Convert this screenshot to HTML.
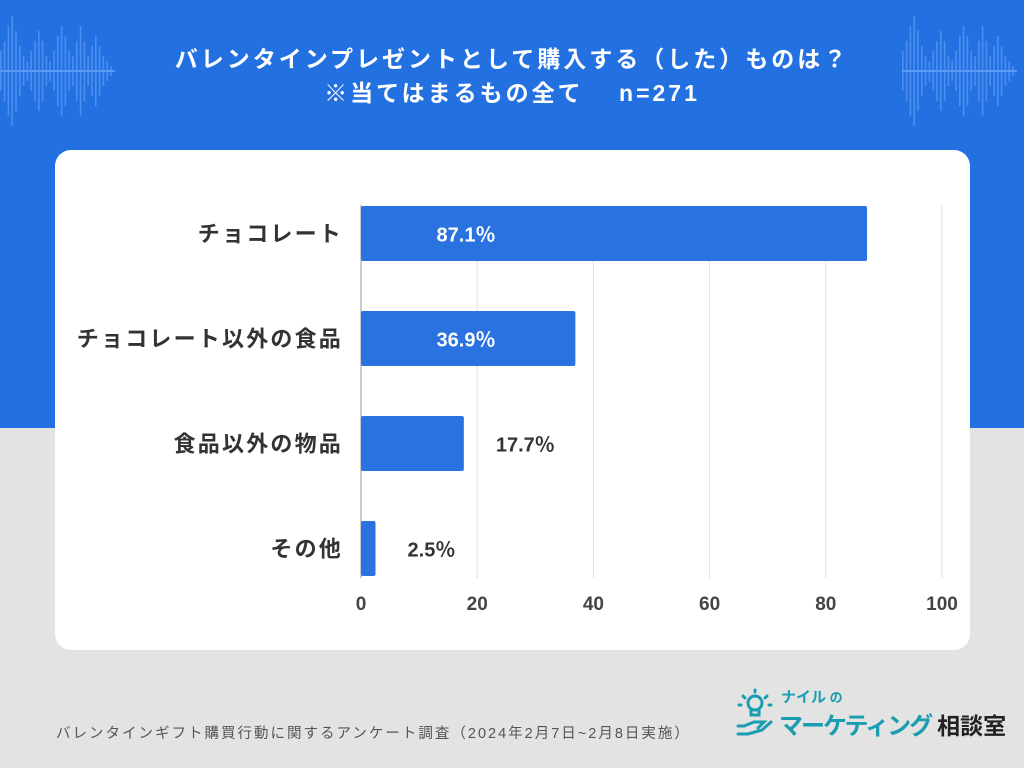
<!DOCTYPE html>
<html><head><meta charset="utf-8">
<style>
body{margin:0;width:1024px;height:768px;position:relative;overflow:hidden;background:#e3e3e3;font-family:"Liberation Sans","Noto Sans CJK JP",sans-serif}
#blue{position:absolute;left:0;top:0;width:1024px;height:428px;background:#2371e1}
#title{position:absolute;left:0;width:1024px;top:42px;text-align:center;color:#fff;font-weight:bold;font-size:23px;letter-spacing:3px;line-height:34px}
#card{position:absolute;left:55px;top:150px;width:915px;height:500px;background:#fff;border-radius:16px}
#foot{position:absolute;left:56px;top:722px;font-size:14.5px;letter-spacing:2px;color:#555;white-space:nowrap}
</style></head><body>
<div id="blue"></div>
<svg id="waves" width="1024" height="140" style="position:absolute;left:0;top:0"></svg>
<div id="title">バレンタインプレゼントとして購入する（した）ものは？<br>※当てはまるもの全て　 n=271</div>
<div id="card"></div>
<svg id="chart" width="1024" height="768" style="position:absolute;left:0;top:0"></svg>
<div id="foot">バレンタインギフト購買行動に関するアンケート調査（2024年2月7日~2月8日実施）</div>
<div style="position:absolute;left:735px;top:686px;width:270px;height:60px;white-space:nowrap">
<svg width="40" height="56" style="position:absolute;left:0;top:2px"><g stroke="#1a9db0" stroke-width="3" fill="none" stroke-linecap="round"><circle cx="20" cy="15" r="7"/><path d="M16 22v5h8v-5M20 2v2M8 8l2 2M32 8l-2 2M4 17h2M34 17h2M3 38h6l10-4h10l-6 6M3 46h10l14-4 9-8"/></g></svg>
<div style="position:absolute;left:46px;top:0;color:#1a9db0;font-weight:bold;font-size:15px">ナイル<span style="font-size:13px"> の</span></div>
<div style="position:absolute;left:44px;top:20px;color:#1a9db0;font-weight:bold;font-size:24px;letter-spacing:-2px">マーケティング<span style="color:#222;font-size:23px;margin-left:6px;letter-spacing:0">相談室</span></div>
</div>
<script>
const categories=["チョコレート","チョコレート以外の食品","食品以外の物品","その他"];
const values=[87.1,36.9,17.7,2.5];
const valueLabels=["87.1％","36.9％","17.7％","2.5％"];
const ticks=[0,20,40,60,80,100];
const NS="http://www.w3.org/2000/svg";
const svg=document.getElementById('chart');
const x0=361,x1=942,top0=206,pitch=105,bh=55;
const xs=v=>x0+(x1-x0)*v/100;
const ys=i=>top0+i*pitch;
function mk(t,a){const e=document.createElementNS(NS,t);for(const k in a)e.setAttribute(k,a[k]);svg.appendChild(e);return e;}
ticks.forEach((t,i)=>{
 if(i>0){const g=mk('line',{x1:xs(t),x2:xs(t),y1:205,y2:578,stroke:'#ddd','stroke-width':1});
 
 }
 const l=mk('text',{x:xs(t),y:610,'text-anchor':'middle','font-size':19,'font-weight':'bold',fill:'#444'});l.textContent=t;
 
 
});
const ax=mk('line',{x1:x0,x2:x0,y1:205,y2:578,stroke:'#999','stroke-width':1});


categories.forEach((c,i)=>{
 const y=ys(i);
 const r=mk('rect',{x:x0,y:y,width:xs(values[i])-x0,height:bh,fill:'#2a72e0',rx:2});
 
 
 const t=mk('text',{x:343,y:y+bh/2+8,'text-anchor':'end','font-size':22,'letter-spacing':'2.2','font-weight':'bold',fill:'#333'});t.textContent=c;
 
 
 const w=xs(values[i])-x0;const inside=w>150;
 const v=mk('text',{x:inside?x0+105:xs(values[i])+32,y:y+bh/2+8,'text-anchor':inside?'middle':'start','font-size':20,'font-weight':'bold',fill:inside?'#fff':'#333'});
 v.textContent=valueLabels[i];
 
 
});
const wv=document.getElementById('waves');
const hs=[40,60,90,110,80,50,30,20,40,60,80,60,30,20,40,70,90,70,40,30,60,90,60,30,50,70,50,30,20,10];
function wave(ox){hs.forEach((h,i)=>{const e=document.createElementNS(NS,'rect');e.setAttribute('x',ox+i*3.8);e.setAttribute('y',71-h/2);e.setAttribute('width',1.6);e.setAttribute('height',h);e.setAttribute('fill','#4b8ef0');wv.appendChild(e);});
 const l=document.createElementNS(NS,'rect');l.setAttribute('x',ox);l.setAttribute('y',70);l.setAttribute('width',115);l.setAttribute('height',2);l.setAttribute('fill','#5b9af2');wv.appendChild(l);}
wave(0);wave(902);
</script>
</body></html>
